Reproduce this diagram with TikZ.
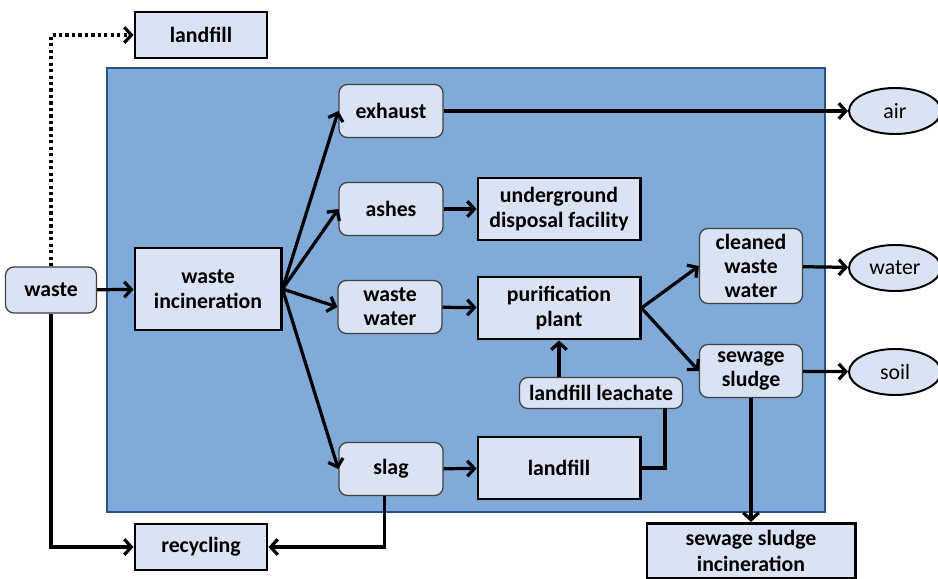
\documentclass[tikz,border=0pt]{standalone}
\usepackage{fontspec}
\setmainfont{Carlito}
\usetikzlibrary{arrows.meta,shapes.geometric}

\definecolor{boxfill}{RGB}{218,227,243}
\definecolor{plantfill}{RGB}{128,170,216}
\definecolor{plantline}{RGB}{40,80,140}

\begin{document}
\begin{tikzpicture}[x=0.025cm, y=-0.025cm,
  procbox/.style={draw=black, fill=boxfill, rectangle, line width=2.1pt,
    align=center, font=\fontsize{15.5}{18}\selectfont\bfseries, inner sep=2pt},
  flowbox/.style={draw=black!75, fill=boxfill, rectangle, rounded corners=6pt,
    line width=0.9pt, align=center, font=\fontsize{15.5}{17}\selectfont\bfseries, inner sep=2pt},
  sinkell/.style={draw=black, fill=boxfill, ellipse, line width=1.4pt,
    minimum width=2.3cm, minimum height=1.15cm, font=\fontsize{15.5}{17}\selectfont, inner sep=1pt},
  ar/.style={-{Straight Barb[length=5pt,width=11pt]}, line width=2.3pt},
  ln/.style={line width=2.3pt},
]
\useasboundingbox (0,0) rectangle (938,578);

%--- plant area ---
\filldraw[fill=plantfill, draw=plantline, line width=1.2pt] (107,68) rectangle (825,512);

%--- outside ---
\node[procbox, minimum width=3.3cm, minimum height=1.15cm] (lf0) at (201,35) {landfill};
\node[flowbox, minimum width=2.275cm, minimum height=1.15cm] (waste) at (51,290) {waste};
\node[procbox, minimum width=3.3cm, minimum height=1.15cm] (recyc) at (201,547) {recycling};

%--- incineration ---
\node[procbox, minimum width=3.65cm, minimum height=2.05cm] (inc) at (208,289) {waste\\incineration};

%--- outputs of incineration ---
\node[flowbox, minimum width=2.6cm, minimum height=1.325cm] (exh) at (391,111) {exhaust};
\node[flowbox, minimum width=2.6cm, minimum height=1.325cm] (ash) at (391,209) {ashes};
\node[flowbox, minimum width=2.6cm, minimum height=1.325cm] (ww) at (390,307) {waste\\water};
\node[flowbox, minimum width=2.6cm, minimum height=1.325cm] (slag) at (391,469) {slag};

%--- treatment ---
\node[procbox, minimum width=4.05cm, minimum height=1.55cm] (udf) at (559,209) {underground\\disposal facility};
\node[procbox, minimum width=4.05cm, minimum height=1.55cm] (purif) at (559,308) {purification\\plant};
\node[procbox, minimum width=4.05cm, minimum height=1.55cm] (lf1) at (559,468) {landfill};
\node[flowbox, minimum width=4.075cm, minimum height=0.775cm] (leach) at (601,393) {landfill leachate};
\coordinate (leachin) at (665,408);

%--- products ---
\node[flowbox, minimum width=2.575cm, minimum height=1.875cm] (clean) at (751,266) {cleaned\\waste\\water};
\node[flowbox, minimum width=2.575cm, minimum height=1.325cm] (sludge) at (751,371) {sewage\\sludge};
\node[procbox, minimum width=5.2cm, minimum height=1.375cm] (ssinc) at (751,551) {sewage sludge\\incineration};

%--- sinks ---
\node[sinkell] (air) at (895,111) {air};
\node[sinkell] (water) at (895,268) {water};
\node[sinkell] (soil) at (895,372) {soil};

%--- arrows ---
\draw[ar, dash pattern=on 2.3pt off 2.3pt] (waste.north) |- (lf0.west);
\draw[ar] (waste) -- (inc);
\draw[ar] (waste.south) |- (recyc.west);
\draw[ar] ([xshift=-4.5pt]slag.south) |- (recyc.east);
\foreach \out in {exh,ash,ww,slag}
  \draw[ar] (inc.east) -- (\out.west);
\draw[ar] (exh) -- (air);
\draw[ar] (ash) -- (udf);
\draw[ar] (ww) -- (purif);
\draw[ar] (slag) -- (lf1);
\draw[ln] (lf1.east) -| (leachin);
\draw[ar] (purif.south |- leach.north) -- (purif.south);
\draw[ar] (purif.east) -- (clean.west);
\draw[ar] (purif.east) -- (sludge.west);
\draw[ar] (clean) -- (water);
\draw[ar] (sludge) -- (soil);
\draw[ar] (sludge) -- (ssinc);

\end{tikzpicture}
\end{document}
